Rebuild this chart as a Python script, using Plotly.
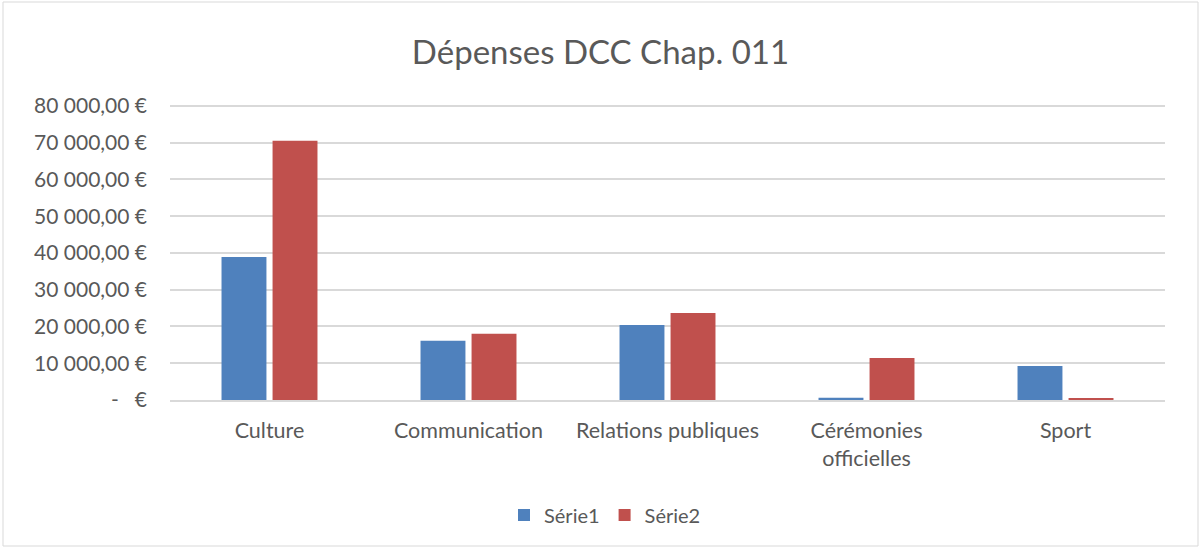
import plotly.graph_objects as go

categories = ["Culture", "Communication", "Relations publiques", "Cérémonies<br>officielles", "Sport"]
serie1 = [38900, 16100, 20400, 600, 9250]
serie2 = [70500, 18000, 23700, 11400, 400]
series_names = ["Série1", "Série2"]
tick_vals = [0, 10000, 20000, 30000, 40000, 50000, 60000, 70000, 80000]
tick_text = ["-   €", "10 000,00 €", "20 000,00 €", "30 000,00 €", "40 000,00 €",
             "50 000,00 €", "60 000,00 €", "70 000,00 €", "80 000,00 €"]

FONT = "Lato"
GREY = "#595959"
PH = 297  # plot height in px

fig = go.Figure()
fig.add_trace(go.Bar(x=categories, y=serie1, name=series_names[0],
                     marker=dict(color="#4f81bd", line=dict(width=0))))
fig.add_trace(go.Bar(x=categories, y=serie2, name=series_names[1],
                     marker=dict(color="#c0504d", line=dict(width=0))))

fig.update_layout(
    width=1201, height=549,
    margin=dict(l=170, r=36, t=103, b=149),
    paper_bgcolor="white", plot_bgcolor="white",
    barmode="group", bargap=0.487, bargroupgap=0.12,
    title=dict(text="Dépenses DCC Chap. 011", x=0.5, xanchor="center",
               y=1 - 52/549, yanchor="middle",
               font=dict(family=FONT, size=33, color=GREY)),
    font=dict(family=FONT, color=GREY, size=21),
    legend=dict(orientation="h", x=(605-170)/995, xanchor="center", y=(400-515)/PH, yanchor="middle",
                font=dict(family=FONT, size=20, color=GREY), traceorder="normal",
                itemwidth=30),
    showlegend=True,
    shapes=[dict(type="rect", xref="paper", yref="paper",
                 x0=(3-170)/995, x1=(1198-170)/995,
                 y0=(400-546)/PH, y1=(400-2)/PH,
                 line=dict(color="#d9d9d9", width=1), fillcolor="rgba(0,0,0,0)", layer="below")],
)
fig.update_yaxes(range=[0, 80800], tickvals=tick_vals, ticktext=tick_text,
                 showgrid=True, gridcolor="#d9d9d9", gridwidth=1.5,
                 zeroline=False, showline=False, ticks="", ticklen=0,
                 ticklabelstandoff=22,
                 tickfont=dict(family=FONT, size=21, color=GREY))
fig.update_xaxes(showline=True, linecolor="#d9d9d9", linewidth=1.5, ticks="",
                 ticklabelstandoff=10,
                 tickfont=dict(family=FONT, size=21.5, color=GREY))

fig.write_html("out.html", config={"displayModeBar": False},
               post_script="document.body.style.margin='0';")
